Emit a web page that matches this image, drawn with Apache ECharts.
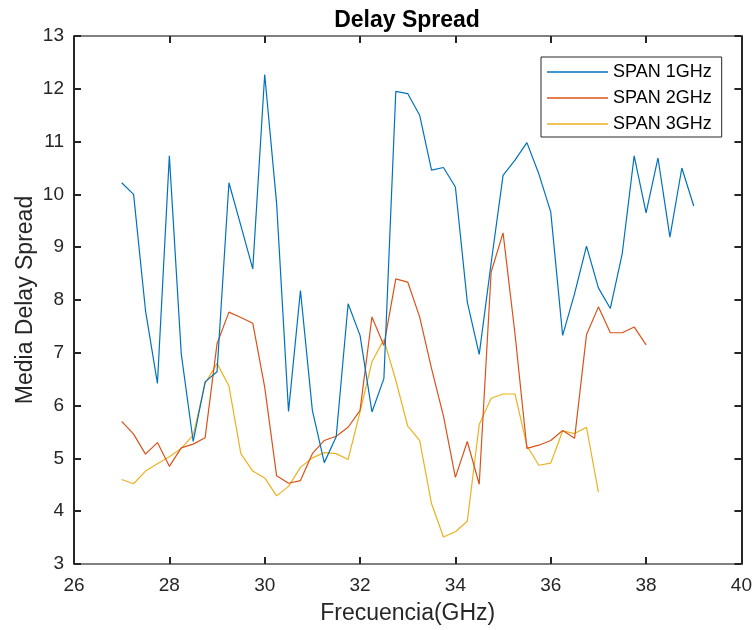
<!DOCTYPE html>
<html>
<head>
<meta charset="utf-8">
<script src="https://cdn.jsdelivr.net/npm/echarts@6/dist/echarts.min.js"></script>
<style>html,body{margin:0;padding:0;background:#fff}#c{width:755px;height:630px}</style>
</head>
<body>
<div id="c"></div>
<script>
var freq = [27,27.25,27.5,27.75,28,28.25,28.5,28.75,29,29.25,29.5,29.75,30,30.25,30.5,30.75,31,31.25,31.5,31.75,32,32.25,32.5,32.75,33,33.25,33.5,33.75,34,34.25,34.5,34.75,35,35.25,35.5,35.75,36,36.25,36.5,36.75,37,37.25,37.5,37.75,38,38.25,38.5,38.75,39];
var span1 = [10.22,10.00,7.80,6.42,10.73,6.98,5.32,6.45,6.64,10.22,9.41,8.59,12.27,9.83,5.89,8.18,5.91,4.92,5.41,7.93,7.33,5.88,6.51,11.95,11.91,11.50,10.46,10.51,10.14,7.96,6.97,8.70,10.36,10.65,10.98,10.39,9.67,7.33,8.12,9.02,8.23,7.84,8.88,10.73,9.65,10.69,9.19,10.50,9.78];
var span2 = [5.70,5.46,5.08,5.30,4.85,5.20,5.27,5.39,7.17,7.77,7.67,7.56,6.35,4.67,4.53,4.58,5.09,5.34,5.42,5.59,5.91,7.68,7.14,8.40,8.34,7.68,6.70,5.80,4.64,5.32,4.51,8.53,9.27,7.36,5.19,5.25,5.34,5.53,5.38,7.34,7.87,7.38,7.38,7.49,7.15];
var span3 = [4.60,4.52,4.76,4.90,5.03,5.19,5.44,6.42,6.80,6.37,5.09,4.76,4.63,4.29,4.47,4.83,5.01,5.11,5.09,4.98,5.88,6.83,7.25,6.48,5.61,5.34,4.14,3.51,3.61,3.81,5.64,6.14,6.22,6.22,5.24,4.87,4.91,5.52,5.47,5.59,4.36];
var seriesNames = ['SPAN 1GHz','SPAN 2GHz','SPAN 3GHz'];
var xTicks = {min:26, max:40, interval:2};
var yTicks = {min:3, max:13, interval:1};

function pairs(v){ return v.map(function(y,i){ return [freq[i], y]; }); }
var FONT = '"Liberation Sans", Arial, Helvetica, sans-serif';
var colors = ['#0072BD','#D95319','#EDB120'];
var chart = echarts.init(document.getElementById('c'), null, {renderer:'canvas'});
var dark = '#262626';
function axisX(pos, show){
  return {type:'value', position:pos, min:xTicks.min, max:xTicks.max, interval:xTicks.interval,
    axisLine:{show:true, onZero:false, lineStyle:{color:'#808080', width:2}},
    axisTick:{show:true, inside:true, length:7, lineStyle:{color:dark, width:2}},
    axisLabel:{show:show, color:dark, fontSize:19, fontFamily:FONT, margin:12},
    splitLine:{show:false},
    name: show ? 'Frecuencia(GHz)' : '', nameLocation:'middle', nameGap:38, nameMoveOverlap:false,
    nameTextStyle:{color:dark, fontSize:23, fontFamily:FONT}};
}
function axisY(pos, show){
  return {type:'value', position:pos, min:yTicks.min, max:yTicks.max, interval:yTicks.interval,
    axisLine:{show:true, onZero:false, lineStyle:{color:dark, width:2}},
    axisTick:{show:true, inside:true, length:7, lineStyle:{color:dark, width:2}},
    axisLabel:{show:show, color:dark, fontSize:19, fontFamily:FONT, margin:10},
    splitLine:{show:false},
    name: show ? 'Media Delay Spread' : '', nameLocation:'middle', nameGap:37, nameMoveOverlap:false,
    nameTextStyle:{color:dark, fontSize:23, fontFamily:FONT}};
}
var data = [span1, span2, span3];
chart.setOption({
  animation:false,
  backgroundColor:'#ffffff',
  title:{text:'Delay Spread', left:402, top:4, textAlign:'center',
    textStyle:{color:'#000', fontSize:23, fontWeight:'bold', fontFamily:FONT}},
  grid:{left:74, right:13, top:36, bottom:66, containLabel:false},
  legend:{orient:'vertical', left:541, top:57, padding:[6,10,4,6], itemGap:8,
    itemWidth:61, itemHeight:1.5, icon:'rect',
    borderColor:dark, borderWidth:1, backgroundColor:'#fff',
    textStyle:{color:'#000', fontSize:18, fontFamily:FONT},
    data:seriesNames},
  xAxis:[axisX('bottom', true), axisX('top', false)],
  yAxis:[axisY('left', true), axisY('right', false)],
  series: data.map(function(v,k){
    return {name:seriesNames[k], type:'line', data:pairs(v), symbol:'none', showSymbol:false,
      color:colors[k], lineStyle:{color:colors[k], width:1.2}, z:3-k};
  })
});
</script>
</body>
</html>
